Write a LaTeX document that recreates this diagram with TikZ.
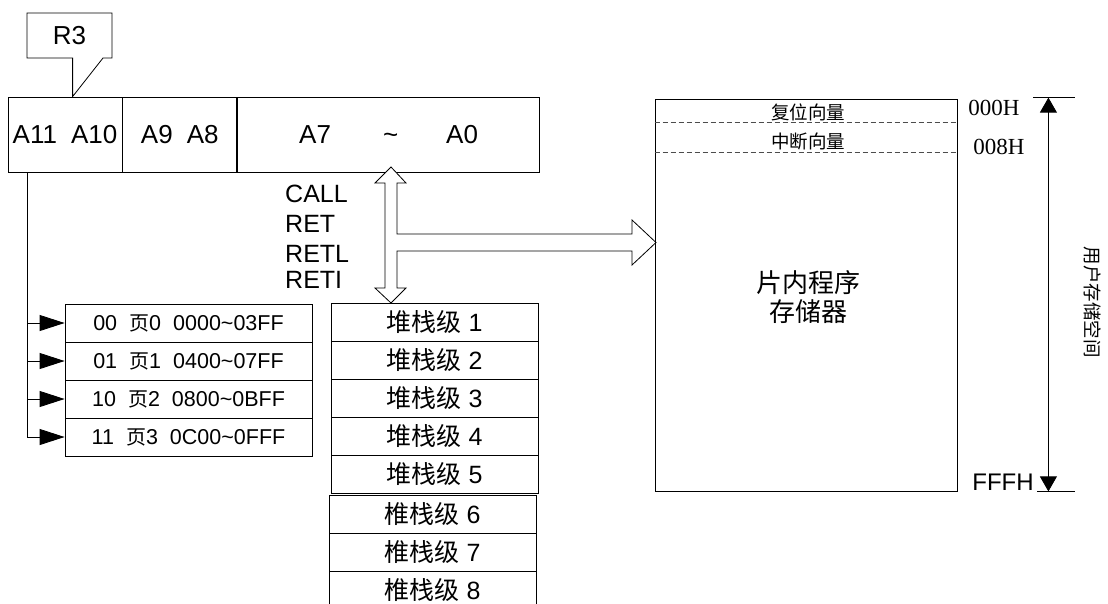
\documentclass[tikz,border=0pt]{standalone}
\usepackage{fontspec}
\setmainfont{Liberation Sans}
\newfontfamily\cjk{Noto Sans CJK SC}
\newfontfamily\timesf{Liberation Serif}
\usetikzlibrary{arrows.meta,calc,positioning}

\tikzset{
  thinline/.style={line width=0.8pt},
  regbox/.style={draw, thinline, inner sep=0pt, minimum height=75,
    font=\fontsize{26}{30}\selectfont},
  pagebox/.style={draw, thinline, inner sep=0pt, minimum width=247, minimum height=38,
    font=\fontsize{21.5}{24}\selectfont},
  stackbox/.style={draw, thinline, inner sep=0pt, minimum width=207, minimum height=38,
    font=\fontsize{25}{28}\selectfont},
  membox/.style={draw, thinline, minimum width=302, minimum height=392},
  memtext/.style={font=\cjk\fontsize{26}{30}\selectfont},
  pgarrow/.style={thinline, -{Triangle[length=25pt,width=16pt]}},
  dashline/.style={line width=0.6pt, dash pattern=on 5pt off 3pt, black!70},
  cmdtext/.style={anchor=base west, inner sep=0pt, font=\fontsize{25}{28}\selectfont},
}

\begin{document}
\begin{tikzpicture}[x=1pt,y=-1pt]
  \useasboundingbox (0,0) rectangle (1108,603);

  % address register
  \node[regbox, minimum width=114] (reg1) at (65,134.5) {A11\hspace{14pt}A10};
  \node[regbox, minimum width=114, right=0pt of reg1] (reg2) {A9\hspace{14pt}A8};
  \node[regbox, minimum width=302, right=0pt of reg2] (reg3)
    {A7\hspace{52pt}\textasciitilde\hspace{48pt}A0};

  % R3 callout
  \node[font=\fontsize{26}{30}\selectfont] (r3) at (69.5,36) {R3};
  \coordinate (r3tip) at ($(reg1.north west)+(65,0)$);
  \draw[thinline] (27,13) -- (112,13) -- (112,58) -- (103,58) -- (r3tip)
    -- (r3tip |- 0,58) -- (27,58) -- cycle;

  % pages
  \foreach \i/\code/\rng in {0/00/0000\textasciitilde03FF, 1/01/0400\textasciitilde07FF,
      2/10/0800\textasciitilde0BFF, 3/11/0C00\textasciitilde0FFF} {
    \node[pagebox] (pg\i) at (188.5,{323+38*\i})
      {\code\hspace{12pt}{\cjk\fontsize{20}{22}\selectfont 页}\i\hspace{12pt}\rng};
  }
  \coordinate (bus) at ($(reg1.south west)+(20,0)$);
  \draw[pgarrow] (bus) |- (pg3.west);
  \foreach \i in {0,1,2}
    \draw[pgarrow] (bus |- pg\i.west) -- (pg\i.west);

  % stack
  \foreach \i in {1,...,5}
    \node[stackbox] (st\i) at (434.5,{322+38*(\i-1)}) {{\cjk 堆栈级} \i};
  \foreach \i in {6,7,8}
    \node[stackbox] (st\i) at (432.5,{514+38*(\i-6)}) {{\cjk 椎栈级} \i};

  % instructions
  \foreach \i/\txt/\y in {1/CALL/202, 2/RET/232, 3/RETL/262, 4/RETI/288}
    \node[cmdtext] (cmd\i) at (285,\y) {\txt};

  % hollow bus arrow
  \coordinate (tip1) at (391,167);
  \coordinate (tip2) at (391,303);
  \coordinate (tip3) at (656,242.5);
  \draw[thinline, fill=white] (tip1) -- (406,183) -- (397,183) -- (397,234) -- (632,234)
    -- (632,220) -- (tip3) -- (632,265) -- (632,251) -- (397,251) -- (397,288)
    -- (406,288) -- (tip2) -- (375,288) -- (385,288) -- (385,183) -- (375,183) -- cycle;

  % program memory
  \node[membox] (mem) at (806,295) {};
  \node[memtext] (mtxt1) at (808,283) {片内程序};
  \node[memtext] (mtxt2) at (808,312) {存储器};
  \draw[dashline] ($(mem.north west)+(0,24)$) -- ($(mem.north east)+(0,24)$);
  \draw[dashline] ($(mem.north west)+(0,54)$) -- ($(mem.north east)+(0,54)$);
  \node[font=\cjk\fontsize{18.5}{20}\selectfont] (vec1) at ($(mem.north)+(2,14)$) {复位向量};
  \node[font=\cjk\fontsize{18.5}{20}\selectfont] (vec2) at ($(mem.north)+(2,43)$) {中断向量};

  % address range
  \node[font=\timesf\fontsize{23}{26}\selectfont] (a000) at (994,108) {000H};
  \node[font=\timesf\fontsize{23}{26}\selectfont] (a008) at (999,147) {008H};
  \node[font=\fontsize{24}{28}\selectfont] (afff) at (1003,482) {FFFH};
  \coordinate (rtop) at ($(mem.north east)+(91,-1)$);
  \coordinate (rbot) at ($(mem.south east)+(91,0)$);
  \draw[thinline] (rtop) ++(-15,0) -- ++(42,0);
  \draw[thinline] (rbot) ++(-11,0) -- ++(38,0);
  \draw[thinline, {Triangle[length=15pt,width=17pt]}-{Triangle[length=15pt,width=17pt]}]
    (rtop) -- (rbot);
  \node[rotate=-90, font=\cjk\fontsize{18.5}{20}\selectfont] (space) at (1093,302) {用户存储空间};
\end{tikzpicture}
\end{document}
